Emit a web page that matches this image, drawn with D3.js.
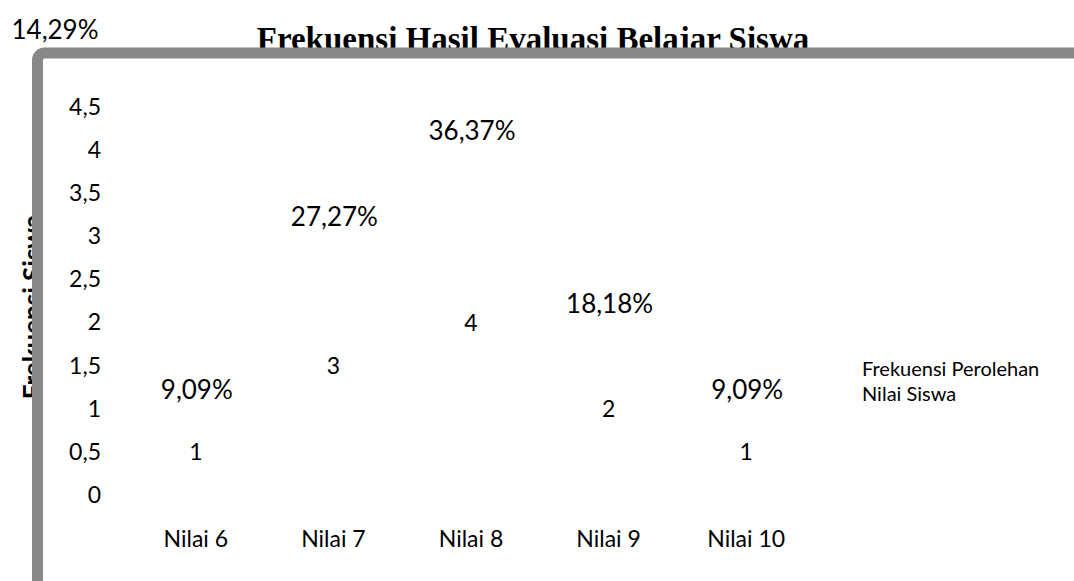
<!DOCTYPE html>
<html lang="id">
<head>
<meta charset="UTF-8">
<title>Frekuensi Hasil Evaluasi Belajar Siswa</title>
<script src="https://d3js.org/d3.v7.min.js"></script>
<style>
    body { margin: 0; background: #fff; }
    svg { display: block; }
    .lbl { font-family: Lato, "Open Sans", sans-serif; font-size: 23px; fill: #000; }
    .pct { font-size: 26px; }
    .legend { font-family: Lato, "Open Sans", sans-serif; font-size: 20px; fill: #000; }
    .title { font-family: "Liberation Serif", "Times New Roman", serif; font-size: 33px; font-weight: bold; }
    .ytitle { font-family: Lato, "Open Sans", sans-serif; font-size: 26px; font-weight: bold; }
</style>
</head>
<body>
<script>
    // data
    const categories = ["Nilai 6", "Nilai 7", "Nilai 8", "Nilai 9", "Nilai 10"];
    const counts = [1, 3, 4, 2, 1];
    const percents = ["9,09%", "27,27%", "36,37%", "18,18%", "9,09%"];
    const yTicks = [0, 0.5, 1, 1.5, 2, 2.5, 3, 3.5, 4, 4.5];
    const strayLabel = "14,29%";
    const legendLines = ["Frekuensi Perolehan", "Nilai Siswa"];

    const width = 1074, height = 581;

    const svg = d3.select("body").append("svg")
        .attr("width", width)
        .attr("height", height);

    const x = d3.scaleBand()
        .domain(categories)
        .range([127, 815]);

    const y = d3.scaleLinear()
        .domain([0, 4.5])
        .range([495, 107]);

    const fmt = d => String(d).replace(".", ",");

    // title (the frame is drawn over its lower edge)
    svg.append("text")
        .attr("class", "title")
        .attr("x", 533)
        .attr("y", 50)
        .attr("text-anchor", "middle")
        .text("Frekuensi Hasil Evaluasi Belajar Siswa");

    // y axis title, mostly hidden by the frame
    svg.append("text")
        .attr("class", "ytitle")
        .attr("transform", "translate(42,307) rotate(-90)")
        .attr("text-anchor", "middle")
        .text("Frekuensi Siswa");

    svg.append("text")
        .attr("class", "lbl pct")
        .attr("x", 55)
        .attr("y", 30)
        .attr("dy", "0.35em")
        .attr("text-anchor", "middle")
        .text(strayLabel);

    // chart frame
    svg.append("rect")
        .attr("x", 37.5)
        .attr("y", 53)
        .attr("width", width + 40)
        .attr("height", height + 40)
        .attr("rx", 7)
        .attr("fill", "none")
        .attr("stroke", "#878787")
        .attr("stroke-width", 11);

    // y axis, labels only
    const yAxis = d3.axisLeft(y)
        .tickValues(yTicks)
        .tickFormat(fmt)
        .tickSize(0)
        .tickPadding(0);

    const gy = svg.append("g")
        .attr("transform", "translate(101,0)")
        .call(yAxis);
    gy.select(".domain").remove();
    gy.selectAll("text")
        .attr("class", "lbl")
        .attr("font-family", null)
        .attr("font-size", null);

    // x axis, labels only
    const xAxis = d3.axisBottom(x).tickSize(0).tickPadding(0);
    const gx = svg.append("g")
        .attr("transform", "translate(0,531)")
        .call(xAxis);
    gx.select(".domain").remove();
    gx.selectAll("text")
        .attr("class", "lbl")
        .attr("font-family", null)
        .attr("font-size", null);

    // count labels in the middle of the (invisible) bars
    svg.selectAll(".count")
        .data(counts)
        .enter().append("text")
        .attr("class", "lbl count")
        .attr("x", (d, i) => x(categories[i]) + x.bandwidth() / 2)
        .attr("y", d => y(d / 2))
        .attr("dy", "0.35em")
        .attr("text-anchor", "middle")
        .text(d => d);

    // percentage labels above the bars
    svg.selectAll(".pct-label")
        .data(counts)
        .enter().append("text")
        .attr("class", "lbl pct pct-label")
        .attr("x", (d, i) => x(categories[i]) + x.bandwidth() / 2 + 1)
        .attr("y", d => y(d) - 19)
        .attr("dy", "0.35em")
        .attr("text-anchor", "middle")
        .text((d, i) => percents[i]);

    // legend
    svg.selectAll(".legend")
        .data(legendLines)
        .enter().append("text")
        .attr("class", "legend")
        .attr("x", 862)
        .attr("y", (d, i) => 376 + i * 25)
        .text(d => d);
</script>
</body>
</html>
